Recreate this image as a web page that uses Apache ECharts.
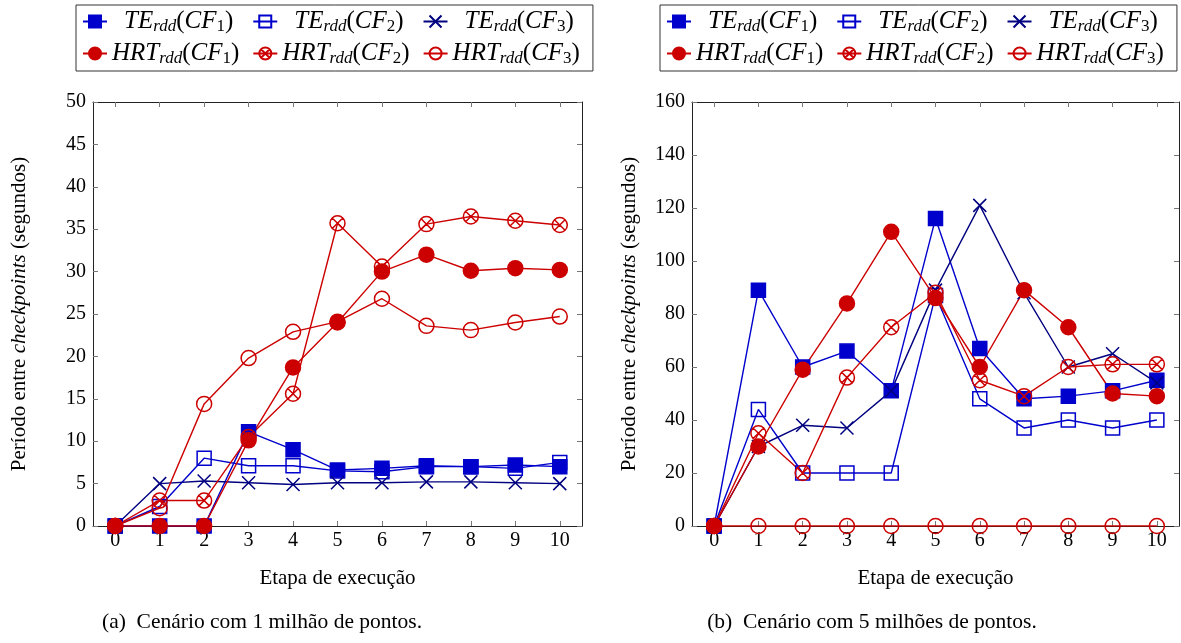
<!DOCTYPE html>
<html>
<head>
<meta charset="utf-8">
<script src="https://cdn.jsdelivr.net/npm/echarts@6/dist/echarts.min.js"></script>
<style>
html,body{margin:0;padding:0;background:#fff;}
#c{width:1181px;height:643px;}
</style>
</head>
<body>
<div id="c"></div>
<script>
// ---- data ----
var steps = ['0','1','2','3','4','5','6','7','8','9','10'];
var yMaxA = 50, yIntA = 5;
var yMaxB = 160, yIntB = 20;
var seriesNames = ['TE1','TE2','TE3','HRT1','HRT2','HRT3'];

// (a) 1 milhão de pontos
var te1A  = [0, 0, 0, 11.1, 9.0, 6.6, 6.8, 7.1, 7.0, 7.2, 7.0];
var te2A  = [0, 2.3, 8.0, 7.1, 7.1, 6.5, 6.4, 7.0, 7.0, 6.8, 7.5];
var te3A  = [0, 5.0, 5.3, 5.1, 4.9, 5.1, 5.1, 5.2, 5.2, 5.1, 5.0];
var hrt1A = [0, 0, 0, 10.1, 18.7, 24.0, 30.0, 32.0, 30.1, 30.4, 30.2];
var hrt2A = [0, 3.0, 3.0, 10.5, 15.6, 35.7, 30.6, 35.6, 36.5, 36.0, 35.5];
var hrt3A = [0, 2.1, 14.4, 19.8, 22.9, 24.1, 26.8, 23.6, 23.1, 24.0, 24.7];

// (b) 5 milhões de pontos
var te1B  = [0, 89, 60, 66, 51, 116, 67, 48, 49, 51, 55];
var te2B  = [0, 44, 20, 20, 20, 87, 48, 37, 40, 37, 40];
var te3B  = [0, 30, 38, 37, 51, 89, 121, 88, 60, 65, 54];
var hrt1B = [0, 30, 59, 84, 111, 86, 60, 89, 75, 50, 49];
var hrt2B = [0, 35, 20, 56, 75, 88, 55, 49, 60, 61, 61];
var hrt3B = [0, 0, 0, 0, 0, 0, 0, 0, 0, 0, 0];

var captionA = '(a)  Cenário com 1 milhão de pontos.';
var captionB = '(b)  Cenário com 5 milhões de pontos.';
var xName = 'Etapa de execução';

// legend label tokens: [style, text]
var legendTokens = {
  TE1:  [['m','TE'],['s','rdd'],['u','('],['m','CF'],['su','1'],['u',')']],
  TE2:  [['m','TE'],['s','rdd'],['u','('],['m','CF'],['su','2'],['u',')']],
  TE3:  [['m','TE'],['s','rdd'],['u','('],['m','CF'],['su','3'],['u',')']],
  HRT1: [['m','HRT'],['s','rdd'],['u','('],['m','CF'],['su','1'],['u',')']],
  HRT2: [['m','HRT'],['s','rdd'],['u','('],['m','CF'],['su','2'],['u',')']],
  HRT3: [['m','HRT'],['s','rdd'],['u','('],['m','CF'],['su','3'],['u',')']]
};

// ---- styles ----
var SERIF = '"Liberation Serif", "DejaVu Serif", serif';
var BLUE = '#0000cc', RED = '#cc0000', NAVY = '#000080';
var CROSS = 'path://M0,0L10,10M0,10L10,0';
var OTIMES = 'path://M20,10A10,10,0,1,1,0,10A10,10,0,1,1,20,10ZM2.93,2.93L17.07,17.07M2.93,17.07L17.07,2.93';
var LF = 25, LS = 17, LW = 134;

var styleDefs = {
  TE1:  {symbol:'rect',   size:14, color:BLUE, fill:BLUE},
  TE2:  {symbol:'rect',   size:14, color:BLUE, fill:'rgba(0,0,0,0)'},
  TE3:  {symbol:CROSS,    size:13, color:NAVY, fill:'rgba(0,0,0,0)'},
  HRT1: {symbol:'circle', size:15, color:RED,  fill:RED},
  HRT2: {symbol:OTIMES,   size:15, color:RED,  fill:'rgba(0,0,0,0)'},
  HRT3: {symbol:'circle', size:15, color:RED,  fill:'rgba(0,0,0,0)'}
};

function mkSeries(name, data, idx) {
  var s = styleDefs[name];
  return {
    name: name, type: 'line', data: data,
    xAxisIndex: idx * 2, yAxisIndex: idx * 2,
    symbol: s.symbol, symbolSize: s.size, showAllSymbol: true,
    color: s.color,
    lineStyle: {color: s.color, width: 1.4},
    itemStyle: {color: s.fill, borderColor: s.color, borderWidth: 1.5},
    emphasis: {disabled: true},
    animation: false, z: 2
  };
}

// measure legend labels to give every entry the same width (TE centred)
var mctx = document.createElement('canvas').getContext('2d');
var fontOf = {
  m:  'italic ' + LF + 'px ' + SERIF,
  u:  LF + 'px ' + SERIF,
  s:  'italic ' + LS + 'px ' + SERIF,
  su: LS + 'px ' + SERIF
};
function buildLabel(name) {
  var toks = legendTokens[name], w = 0, str = '';
  toks.forEach(function (t) {
    mctx.font = fontOf[t[0]];
    w += mctx.measureText(t[1]).width;
    str += '{' + t[0] + '|' + t[1] + '}';
  });
  var extra = Math.max(0, LW - w);
  var lead = name.indexOf('TE') === 0 ? Math.round(extra / 2) : 0;
  var trail = Math.max(1, Math.round(extra - lead));
  return (lead > 0 ? '{sp' + lead + '| }' : '') + str + '{sp' + trail + '| }';
}
var legendLabels = {}, spacerRich = {};
seriesNames.forEach(function (n) { legendLabels[n] = buildLabel(n); });
for (var k = 1; k <= 80; k++) spacerRich['sp' + k] = {width: k, fontSize: 10, lineHeight: 27};

function mkLegend(left) {
  var rich = {
    m:  {fontFamily: SERIF, fontStyle: 'italic', fontSize: LF, lineHeight: 27, color: '#000'},
    u:  {fontFamily: SERIF, fontSize: LF, lineHeight: 27, color: '#000'},
    s:  {fontFamily: SERIF, fontStyle: 'italic', fontSize: LS, lineHeight: 16, verticalAlign: 'bottom', color: '#000'},
    su: {fontFamily: SERIF, fontSize: LS, lineHeight: 16, verticalAlign: 'bottom', color: '#000'}
  };
  for (var key in spacerRich) rich[key] = spacerRich[key];
  return {
    left: left, top: 5, width: 510,
    orient: 'horizontal',
    padding: [4, 6], itemGap: 6,
    itemWidth: 24, itemHeight: 15,
    borderColor: '#333', borderWidth: 1,
    data: seriesNames,
    selectedMode: false,
    formatter: function (n) { return legendLabels[n]; },
    textStyle: {rich: rich}
  };
}

var axisLineStyle = {color: '#222', width: 1};
var tickStyle = {color: '#777', width: 1};

function mkX(gridIndex, top) {
  return {
    type: 'category', data: steps, gridIndex: gridIndex,
    position: top ? 'top' : 'bottom',
    boundaryGap: true,
    axisLine: {show: true, onZero: false, lineStyle: axisLineStyle},
    axisTick: {show: true, inside: true, alignWithLabel: true, length: 5, lineStyle: tickStyle},
    axisLabel: {show: !top, fontFamily: SERIF, fontSize: 20, color: '#000', margin: 5},
    splitLine: {show: false},
    name: top ? '' : xName,
    nameLocation: 'middle', nameGap: 42,
    nameTextStyle: {fontFamily: SERIF, fontSize: 21, color: '#000'}
  };
}

function mkY(gridIndex, right, max, interval, nameGap) {
  return {
    type: 'value', gridIndex: gridIndex,
    position: right ? 'right' : 'left',
    min: 0, max: max, interval: interval,
    axisLine: {show: true, onZero: false, lineStyle: axisLineStyle},
    axisTick: {show: true, inside: true, length: 5, lineStyle: tickStyle},
    axisLabel: {show: !right, fontFamily: SERIF, fontSize: 20, color: '#000', margin: 7},
    splitLine: {show: false},
    name: right ? '' : '{n|Período entre }{i|checkpoints}{n| (segundos)}',
    nameLocation: 'middle', nameGap: nameGap, nameRotate: 90,
    nameTextStyle: {
      rich: {
        n: {fontFamily: SERIF, fontSize: 21, color: '#000'},
        i: {fontFamily: SERIF, fontSize: 21, fontStyle: 'italic', color: '#000'}
      }
    }
  };
}

var chart = echarts.init(document.getElementById('c'), null, {renderer: 'canvas'});
var option = {
  backgroundColor: '#fff',
  animation: false,
  legend: [mkLegend(76), mkLegend(660)],
  grid: [
    {left: 93, top: 102, width: 489, height: 424},
    {left: 692, top: 102, width: 487, height: 424}
  ],
  xAxis: [mkX(0, false), mkX(0, true), mkX(1, false), mkX(1, true)],
  yAxis: [mkY(0, false, yMaxA, yIntA, 63), mkY(0, true, yMaxA, yIntA, 0),
          mkY(1, false, yMaxB, yIntB, 52), mkY(1, true, yMaxB, yIntB, 0)],
  series: [
    mkSeries('TE1', te1A, 0), mkSeries('TE2', te2A, 0), mkSeries('TE3', te3A, 0),
    mkSeries('HRT1', hrt1A, 0), mkSeries('HRT2', hrt2A, 0), mkSeries('HRT3', hrt3A, 0),
    mkSeries('TE1', te1B, 1), mkSeries('TE2', te2B, 1), mkSeries('TE3', te3B, 1),
    mkSeries('HRT1', hrt1B, 1), mkSeries('HRT2', hrt2B, 1), mkSeries('HRT3', hrt3B, 1)
  ],
  graphic: [
    {type: 'text', x: 262, y: 611, style: {text: captionA, fontFamily: SERIF, fontSize: 21.5, fill: '#000', textAlign: 'center'}},
    {type: 'text', x: 872, y: 611, style: {text: captionB, fontFamily: SERIF, fontSize: 21.5, fill: '#000', textAlign: 'center'}}
  ]
};
chart.setOption(option);
</script>
</body>
</html>
